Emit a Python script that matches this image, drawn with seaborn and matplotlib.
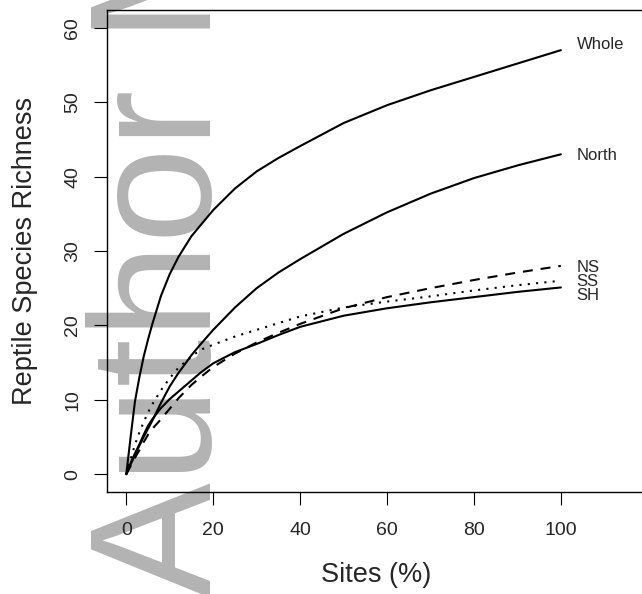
import matplotlib
matplotlib.use("Agg")
import matplotlib.pyplot as plt
import pandas as pd
import seaborn as sns

# --------------------------------------------------
# Data
# --------------------------------------------------

sites_pct = [0, 1, 2, 3, 4, 5, 6, 8, 10, 12, 15, 17, 20, 25, 30, 35, 40, 50, 60, 70, 80, 90, 100]

whole = [0, 5.0, 9.8, 13.0, 15.8, 18.1, 20.2, 24.0, 26.9, 29.2, 32.0, 33.4, 35.5, 38.4,
         40.7, 42.5, 44.1, 47.2, 49.6, 51.6, 53.4, 55.2, 57.0]
north = [0, 1.3, 2.6, 3.8, 5.0, 6.1, 7.2, 9.6, 11.8, 13.6, 16.0, 17.4, 19.4, 22.4,
         25.0, 27.1, 28.9, 32.3, 35.2, 37.7, 39.8, 41.5, 43.0]
ns = [0, 1.1, 2.2, 3.2, 4.3, 5.3, 6.1, 7.4, 8.8, 10.2, 12.0, 13.0, 14.4, 16.2,
      17.7, 19.0, 20.2, 22.3, 23.8, 25.0, 26.1, 27.1, 28.0]
ss = [0, 2.0, 4.0, 5.6, 7.0, 8.3, 9.4, 11.3, 12.9, 14.3, 15.8, 16.7, 17.4, 18.5,
      19.4, 20.3, 21.2, 22.4, 23.2, 23.9, 24.7, 25.4, 26.0]
sh = [0, 1.5, 2.8, 4.0, 5.3, 6.5, 7.4, 8.9, 10.1, 11.1, 12.6, 13.6, 14.9, 16.4,
      17.5, 18.7, 19.8, 21.3, 22.3, 23.1, 23.8, 24.5, 25.1]

series_names = ["Whole", "North", "NS", "SS", "SH"]
label_y = [58.0, 43.0, 28.0, 26.1, 24.2]

x_ticks = [0, 20, 40, 60, 80, 100]
y_ticks = [0, 10, 20, 30, 40, 50, 60]

df = pd.DataFrame({"Sites": sites_pct, "Whole": whole, "North": north,
                   "NS": ns, "SS": ss, "SH": sh})
long_df = df.melt(id_vars="Sites", var_name="Region", value_name="Richness")

# --------------------------------------------------
# Style
# --------------------------------------------------

sns.set_style("white")
plt.rcParams["font.family"] = ["Liberation Sans", "DejaVu Sans"]

line_styles = {
    "Whole": "",
    "North": "",
    "NS": (4.8, 3.8),
    "SS": (1, 3),
    "SH": "",
}

fig = plt.figure(figsize=(6.42, 5.94), dpi=100)
ax = fig.add_axes([107 / 642, 1 - 492 / 594, 539 / 642, 482 / 594])
ax.patch.set_alpha(0)

# watermark sits behind the plot
fig.text(211 / 642, 1 - 597 / 594, "Author Manuscript", rotation=90,
         rotation_mode="anchor", ha="left", va="baseline",
         fontsize=124, color="#b3b3b3", zorder=-1)

# --------------------------------------------------
# Curves
# --------------------------------------------------

sns.lineplot(data=long_df, x="Sites", y="Richness", style="Region",
             dashes=line_styles, color="black", linewidth=1.5,
             legend=False, ax=ax)

for name, ly in zip(series_names, label_y):
    ax.text(103.6, ly, name, ha="left", va="center_baseline", fontsize=12)

ax.set_xlim(-4.44, 119.6)
ax.set_ylim(-2.4, 62.4)
ax.set_xticks(x_ticks)
ax.set_yticks(y_ticks)
ax.tick_params(axis="both", direction="out", length=9.4, width=0.8,
               labelsize=14, color="black", bottom=True, left=True)
ax.tick_params(axis="x", pad=12)
ax.tick_params(axis="y", pad=9)
for lab in ax.get_yticklabels():
    lab.set_rotation(90)
    lab.set_va("center")

for spine in ax.spines.values():
    spine.set_visible(True)
    spine.set_color("black")
    spine.set_linewidth(1.0)

ax.set_xlabel("Sites (%)", fontsize=19.5, labelpad=17)
ax.set_ylabel("Reptile Species Richness", fontsize=19.5, labelpad=19)

fig.savefig("out.png", dpi=100)
